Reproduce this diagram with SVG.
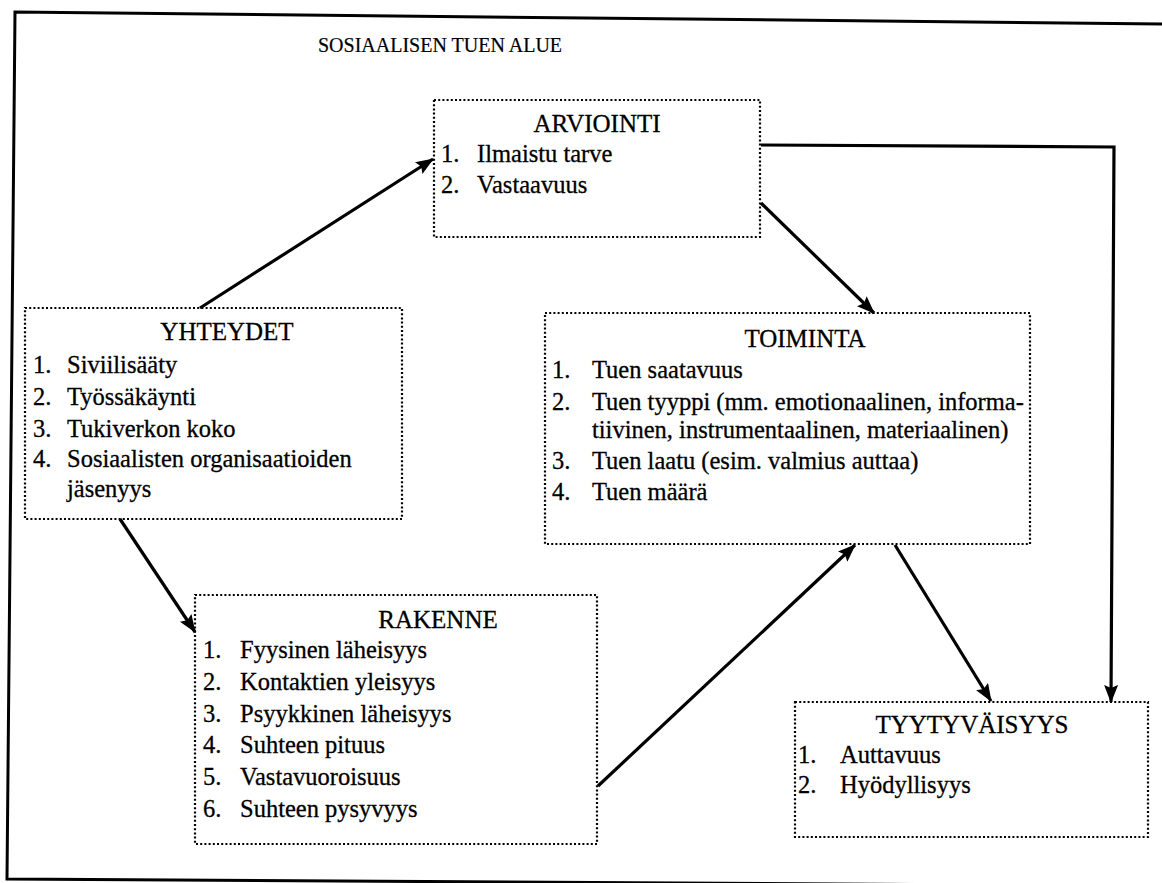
<svg xmlns="http://www.w3.org/2000/svg" width="1162" height="883" viewBox="0 0 1162 883">
<style>
  .box { fill: none; stroke: #000; stroke-width: 2.2; stroke-dasharray: 2 2.2; }
  .t { font-family: "Liberation Serif", "Times New Roman", serif; font-size: 24.5px; fill: #000; stroke: #000; stroke-width: 0.3; }
  .h { font-family: "Liberation Serif", "Times New Roman", serif; font-size: 25px; fill: #000; stroke: #000; stroke-width: 0.3; text-anchor: middle; }
  .title { font-family: "Liberation Serif", "Times New Roman", serif; font-size: 20px; fill: #000; stroke: #000; stroke-width: 0.2; }
  .conn { fill: none; stroke: #000; stroke-width: 3.2; }
</style>
<defs>
  <marker id="ah" viewBox="0 0 18 14" refX="17" refY="7" markerWidth="18" markerHeight="14" markerUnits="userSpaceOnUse" orient="auto">
    <path d="M0,0 L18,7 L0,14 L3,7 z" fill="#000"/>
  </marker>
</defs>
<rect width="1162" height="883" fill="#fff"/>

<g id="frame">
  <path d="M1162,24 L15,12 L7,879 L1162,886" fill="none" stroke="#000" stroke-width="3"/>
  <text class="title" x="318" y="52">SOSIAALISEN TUEN ALUE</text>
</g>

<g id="connectors">
  <line class="conn" x1="200" y1="308" x2="433" y2="159" marker-end="url(#ah)"/>
  <line class="conn" x1="761" y1="203" x2="874" y2="313" marker-end="url(#ah)"/>
  <polyline class="conn" points="761,145 1114,147 1111,702" marker-end="url(#ah)"/>
  <line class="conn" x1="120" y1="519" x2="195" y2="632" marker-end="url(#ah)"/>
  <line class="conn" x1="598" y1="786" x2="855" y2="545" marker-end="url(#ah)"/>
  <line class="conn" x1="895" y1="545" x2="991" y2="701" marker-end="url(#ah)"/>
</g>

<g id="arviointi">
  <rect class="box" x="434" y="100" width="326" height="137"/>
  <text class="h" x="597" y="132">ARVIOINTI</text>
  <text class="t" x="441" y="162">1.</text><text class="t" x="477" y="162">Ilmaistu tarve</text>
  <text class="t" x="441" y="193">2.</text><text class="t" x="477" y="193">Vastaavuus</text>
</g>

<g id="yhteydet">
  <rect class="box" x="25" y="308" width="377" height="211"/>
  <text class="h" x="227" y="340">YHTEYDET</text>
  <text class="t" x="33" y="373">1.</text><text class="t" x="67" y="373">Siviilisääty</text>
  <text class="t" x="33" y="405">2.</text><text class="t" x="67" y="405">Työssäkäynti</text>
  <text class="t" x="33" y="437">3.</text><text class="t" x="67" y="437">Tukiverkon koko</text>
  <text class="t" x="33" y="467">4.</text><text class="t" x="67" y="467">Sosiaalisten organisaatioiden</text>
  <text class="t" x="67" y="497">jäsenyys</text>
</g>

<g id="toiminta">
  <rect class="box" x="545" y="313" width="485" height="231"/>
  <text class="h" x="805" y="347">TOIMINTA</text>
  <text class="t" x="552" y="378">1.</text><text class="t" x="592" y="378">Tuen saatavuus</text>
  <text class="t" x="552" y="410">2.</text><text class="t" x="592" y="410">Tuen tyyppi (mm. emotionaalinen, informa-</text>
  <text class="t" x="592" y="438">tiivinen, instrumentaalinen, materiaalinen)</text>
  <text class="t" x="552" y="469">3.</text><text class="t" x="592" y="469">Tuen laatu (esim. valmius auttaa)</text>
  <text class="t" x="552" y="500">4.</text><text class="t" x="592" y="500">Tuen määrä</text>
</g>

<g id="rakenne">
  <rect class="box" x="195" y="595" width="402" height="249"/>
  <text class="h" x="438" y="628">RAKENNE</text>
  <text class="t" x="203" y="658">1.</text><text class="t" x="240" y="658">Fyysinen läheisyys</text>
  <text class="t" x="203" y="690">2.</text><text class="t" x="240" y="690">Kontaktien yleisyys</text>
  <text class="t" x="203" y="722">3.</text><text class="t" x="240" y="722">Psyykkinen läheisyys</text>
  <text class="t" x="203" y="753">4.</text><text class="t" x="240" y="753">Suhteen pituus</text>
  <text class="t" x="203" y="785">5.</text><text class="t" x="240" y="785">Vastavuoroisuus</text>
  <text class="t" x="203" y="817">6.</text><text class="t" x="240" y="817">Suhteen pysyvyys</text>
</g>

<g id="tyytyvaisyys">
  <rect class="box" x="795" y="702" width="353" height="135"/>
  <text class="h" x="972" y="733">TYYTYVÄISYYS</text>
  <text class="t" x="798" y="763">1.</text><text class="t" x="840" y="763">Auttavuus</text>
  <text class="t" x="798" y="793">2.</text><text class="t" x="840" y="793">Hyödyllisyys</text>
</g>
</svg>
